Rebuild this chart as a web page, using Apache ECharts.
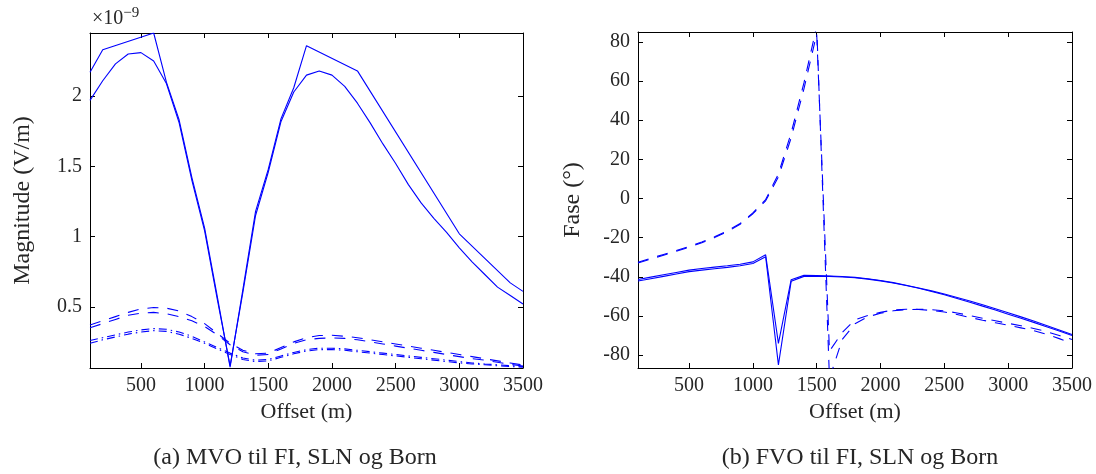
<!DOCTYPE html>
<html>
<head>
<meta charset="utf-8">
<title>MVO / FVO</title>
<script src="https://cdn.jsdelivr.net/npm/echarts@6/dist/echarts.min.js"></script>
<style>
  html, body { margin: 0; padding: 0; background: #fff; }
  #chart { width: 1096px; height: 474px; }
</style>
</head>
<body>
<div id="chart"></div>
<script>
// offset (m) for the finely sampled curves
const offsets = [100,200,300,400,500,600,700,800,900,1000,1100,1200,1300,1400,1500,1600,1700,1800,
  1900,2000,2100,2200,2300,2400,2500,2600,2700,2800,2900,3000,3100,3200,3300,3400,3500];

// (a) magnitude, x 1e-9 V/m
const magFiX = [100,200,600,700,800,900,1000,1100,1200,1300,1400,1500,1600,1700,1800,2200,3000,3400,3500];
const magFi  = [2.17,2.33,2.45,2.10,1.83,1.42,1.06,0.57,0.07,0.62,1.18,1.48,1.84,2.06,2.36,2.18,1.02,0.67,0.61];
const magSln = [1.97,2.11,2.23,2.30,2.31,2.25,2.09,1.81,1.40,1.04,0.55,0.08,0.60,1.15,1.46,1.82,2.03,2.15,
  2.18,2.15,2.07,1.95,1.81,1.66,1.52,1.37,1.24,1.13,1.03,0.92,0.82,0.73,0.64,0.58,0.52];
const magDash1 = [0.37,0.40,0.43,0.46,0.485,0.495,0.49,0.47,0.43,0.38,0.31,0.24,0.19,0.165,0.17,0.21,0.25,0.28,
  0.295,0.297,0.29,0.28,0.265,0.25,0.235,0.22,0.205,0.19,0.175,0.16,0.145,0.13,0.115,0.10,0.085];
const magDash2 = [0.35,0.38,0.41,0.44,0.455,0.46,0.45,0.43,0.40,0.36,0.30,0.23,0.18,0.155,0.16,0.20,0.24,0.265,
  0.275,0.278,0.275,0.265,0.25,0.235,0.22,0.205,0.19,0.175,0.16,0.145,0.13,0.12,0.105,0.09,0.078];
const magDot1 = [0.26,0.28,0.30,0.32,0.335,0.345,0.34,0.32,0.29,0.25,0.21,0.17,0.135,0.12,0.125,0.15,0.175,0.195,
  0.205,0.205,0.20,0.19,0.18,0.17,0.16,0.15,0.14,0.13,0.12,0.11,0.10,0.093,0.087,0.08,0.075];
const magDot2 = [0.24,0.265,0.285,0.305,0.32,0.33,0.325,0.305,0.275,0.24,0.20,0.16,0.125,0.11,0.115,0.14,0.165,0.185,
  0.195,0.195,0.19,0.18,0.17,0.16,0.15,0.14,0.13,0.12,0.11,0.10,0.093,0.087,0.08,0.074,0.07];

// (b) phase, degrees
const faseSol1 = [-41.4,-40.2,-39.0,-37.8,-36.6,-35.8,-35.1,-34.4,-33.6,-32.4,-28.8,-74.0,-41.5,-39.3,-39.4,-39.6,-39.9,-40.3,
  -41.0,-41.9,-43.0,-44.3,-45.7,-47.2,-48.8,-50.6,-52.4,-54.3,-56.3,-58.4,-60.5,-62.6,-64.9,-67.2,-69.5];
const faseSol2 = [-42.2,-41.0,-39.8,-38.6,-37.4,-36.6,-35.9,-35.2,-34.4,-33.2,-29.8,-85.0,-42.3,-39.8,-39.7,-39.8,-40.1,-40.5,
  -41.2,-42.1,-43.2,-44.5,-45.9,-47.5,-49.2,-51.1,-53.0,-55.0,-57.0,-59.1,-61.2,-63.3,-65.5,-67.7,-70.0];
const faseDash1 = [-33.0,-31.0,-29.0,-27.0,-25.0,-22.6,-20.0,-17.0,-13.2,-7.8,-1.2,11.0,31.0,56.0,84.0,-78.0,-68.5,-62.0,
  -59.8,-58.2,-57.0,-56.6,-56.7,-57.2,-58.0,-59.3,-60.8,-62.2,-63.5,-64.8,-66.1,-67.5,-69.4,-71.6,-74.0];
const faseDash2 = [-32.6,-30.6,-28.6,-26.6,-24.6,-22.2,-19.6,-16.6,-12.8,-7.4,-0.6,12.5,33.5,59.0,88.0,-92.0,-72.0,-64.0,
  -60.5,-58.6,-57.4,-56.8,-56.6,-56.8,-57.4,-58.5,-59.8,-61.2,-62.5,-63.8,-65.0,-66.4,-68.0,-70.0,-72.0];

// tick labels
const xTicks = [500,1000,1500,2000,2500,3000,3500];
const magTicks = [0.5,1,1.5,2];
const faseTicks = [-80,-60,-40,-20,0,20,40,60,80];

const FONT = '"Liberation Serif", "DejaVu Serif", serif';
const BLUE = '#0000ff';
const TXT = '#262626';

function pairs(xs, ys){
  return xs.map((x,i) => [x, ys[i]]);
}
// plain numbers, no thousands separator, ascii minus
function plain(v){
  return String(v);
}

// bottom/left axes carry labels, top/right only the inside ticks (MATLAB box)
function xAx(grid, top, name){
  return {
    type:'value', gridIndex:grid, position: top ? 'top' : 'bottom',
    min:100, max:3500,
    axisLine:{show:true, onZero:false, lineStyle:{color:'#000', width:1}},
    axisTick:{show:true, inside:true, length:5, customValues:xTicks, lineStyle:{color:'#000'}},
    axisLabel:{show:!top, customValues:xTicks, formatter:plain, color:TXT, fontFamily:FONT, fontSize:20, margin:8},
    splitLine:{show:false},
    name: top ? '' : name, nameLocation:'middle', nameGap:33,
    nameTextStyle:{color:TXT, fontFamily:FONT, fontSize:22}
  };
}
function yAx(grid, right, min, max, ticks, name, gap){
  return {
    type:'value', gridIndex:grid, position: right ? 'right' : 'left',
    min:min, max:max,
    axisLine:{show:true, onZero:false, lineStyle:{color:'#000', width:1}},
    axisTick:{show:true, inside:true, length:5, customValues:ticks, lineStyle:{color:'#000'}},
    axisLabel:{show:!right, customValues:ticks, formatter:plain, color:TXT, fontFamily:FONT, fontSize:20, margin:8},
    splitLine:{show:false},
    name: right ? '' : name, nameLocation:'middle', nameGap:gap, nameRotate:90,
    nameTextStyle:{color:TXT, fontFamily:FONT, fontSize:24}
  };
}
function line(xi, yi, data, dash){
  return {
    type:'line', xAxisIndex:xi, yAxisIndex:yi, data:data,
    showSymbol:false, symbol:'none', smooth:false, silent:true,
    lineStyle:{color:BLUE, width:1.1, type: dash || 'solid'}
  };
}

// dash patterns
const DASH = [11,9];
const DASHDOT = [8,4,1.5,4];
const DASH_B = [11,9];

let myChart = echarts.init(document.getElementById('chart'));
let option = {
  animation:false,
  backgroundColor:'#fff',
  grid:[
    {left:90, top:33, width:433, height:335},
    {left:638, top:32, width:434, height:336}
  ],
  xAxis:[
    xAx(0,false,'Offset (m)'), xAx(0,true),
    xAx(1,false,'Offset (m)'), xAx(1,true)
  ],
  yAxis:[
    yAx(0,false,0.064,2.45,magTicks,'Magnitude (V/m)',55), yAx(0,true,0.064,2.45,magTicks),
    yAx(1,false,-86.6,85,faseTicks,'Fase (°)',53), yAx(1,true,-86.6,85,faseTicks)
  ],
  series:[
    line(0,0,pairs(magFiX,magFi)),
    line(0,0,pairs(offsets,magSln)),
    line(0,0,pairs(offsets,magDash1),DASH),
    line(0,0,pairs(offsets,magDash2),DASH),
    line(0,0,pairs(offsets,magDot1),DASHDOT),
    line(0,0,pairs(offsets,magDot2),DASHDOT),
    line(2,2,pairs(offsets,faseSol1)),
    line(2,2,pairs(offsets,faseSol2)),
    line(2,2,pairs(offsets,faseDash1),DASH_B),
    line(2,2,pairs(offsets,faseDash2),DASH_B)
  ],
  graphic:[
    {
      type:'text', left:92, top:6,
      style:{
        text:'×10{sup|−9}', fill:TXT, font:'20px ' + FONT,
        rich:{sup:{fontSize:15, fontFamily:FONT, fill:TXT, verticalAlign:'top', padding:[0,0,10,0]}}
      }
    },
    {
      type:'text', x:295, y:458,
      style:{text:'(a) MVO til FI, SLN og Born', fill:TXT, font:'24px ' + FONT, align:'center', verticalAlign:'middle'}
    },
    {
      type:'text', x:860, y:458,
      style:{text:'(b) FVO til FI, SLN og Born', fill:TXT, font:'24px ' + FONT, align:'center', verticalAlign:'middle'}
    }
  ]
};
myChart.setOption(option);
</script>
</body>
</html>
